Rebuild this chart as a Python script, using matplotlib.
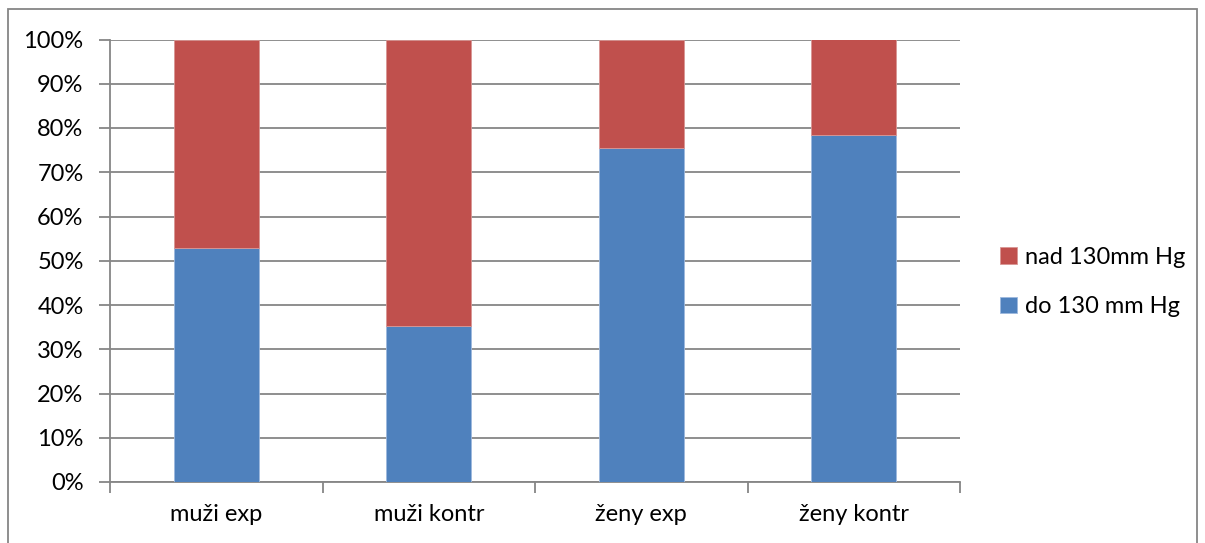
import numpy as np
import matplotlib.pyplot as plt
from matplotlib.patches import Rectangle
from matplotlib.ticker import PercentFormatter

skupiny = ["muži exp", "muži kontr", "ženy exp", "ženy kontr"]
do_130 = [52.8, 35.3, 75.5, 78.5]
nad_130 = [100 - v for v in do_130]

modra = "#4F81BD"
cervena = "#C0504D"
mriz = "#868686"

plt.rcParams['font.family'] = ['Lato', 'DejaVu Sans']
fs = 17

fig = plt.figure(figsize=(12.05, 5.43), dpi=100)
W, H = 1205, 543
ax = fig.add_axes([110 / W, 1 - 482 / H, (960 - 110) / W, (482 - 39.5) / H])

x = np.arange(len(skupiny))
ax.bar(x, do_130, width=0.4, color=modra, edgecolor="#9DB9DE", linewidth=0.6,
       label="do 130 mm Hg", zorder=3)
ax.bar(x, nad_130, width=0.4, bottom=do_130, color=cervena, edgecolor="#D99694",
       linewidth=0.6, label="nad 130mm Hg", zorder=3)

ax.set_xlim(-0.5, len(skupiny) - 0.5)
ax.set_ylim(0, 100)
ax.set_yticks(np.arange(0, 101, 10))
ax.yaxis.set_major_formatter(PercentFormatter(decimals=0))
ax.yaxis.grid(True, color=mriz, linewidth=1.3, zorder=0)

ax.set_xticks(x)
ax.set_xticklabels(skupiny)
ax.set_xticks(np.arange(-0.5, len(skupiny)), minor=True)
ax.tick_params(axis="x", which="major", length=0, pad=16, labelsize=fs)
ax.tick_params(axis="x", which="minor", length=8, width=1.3, color=mriz, direction="out")
ax.tick_params(axis="y", length=8, width=1.3, color=mriz, direction="out", pad=11,
               labelsize=fs)

for side in ["top", "right"]:
    ax.spines[side].set_visible(False)
for side in ["left", "bottom"]:
    ax.spines[side].set_color(mriz)
    ax.spines[side].set_linewidth(1.3)

h, l = ax.get_legend_handles_labels()
fig.legend(h[::-1], l[::-1], loc="center left", bbox_to_anchor=(979 / W, 1 - 282 / H),
           frameon=False, fontsize=fs, handlelength=0.7, handleheight=0.7,
           handletextpad=0.35, labelspacing=1.2)

# rámeček kolem grafu
fig.patches.append(Rectangle((8 / W, -0.05), (1197 - 8) / W, 1 - 9 / H + 0.05,
                             transform=fig.transFigure, fill=False,
                             edgecolor=mriz, linewidth=1.3))

fig.savefig("out.png", dpi=100)
